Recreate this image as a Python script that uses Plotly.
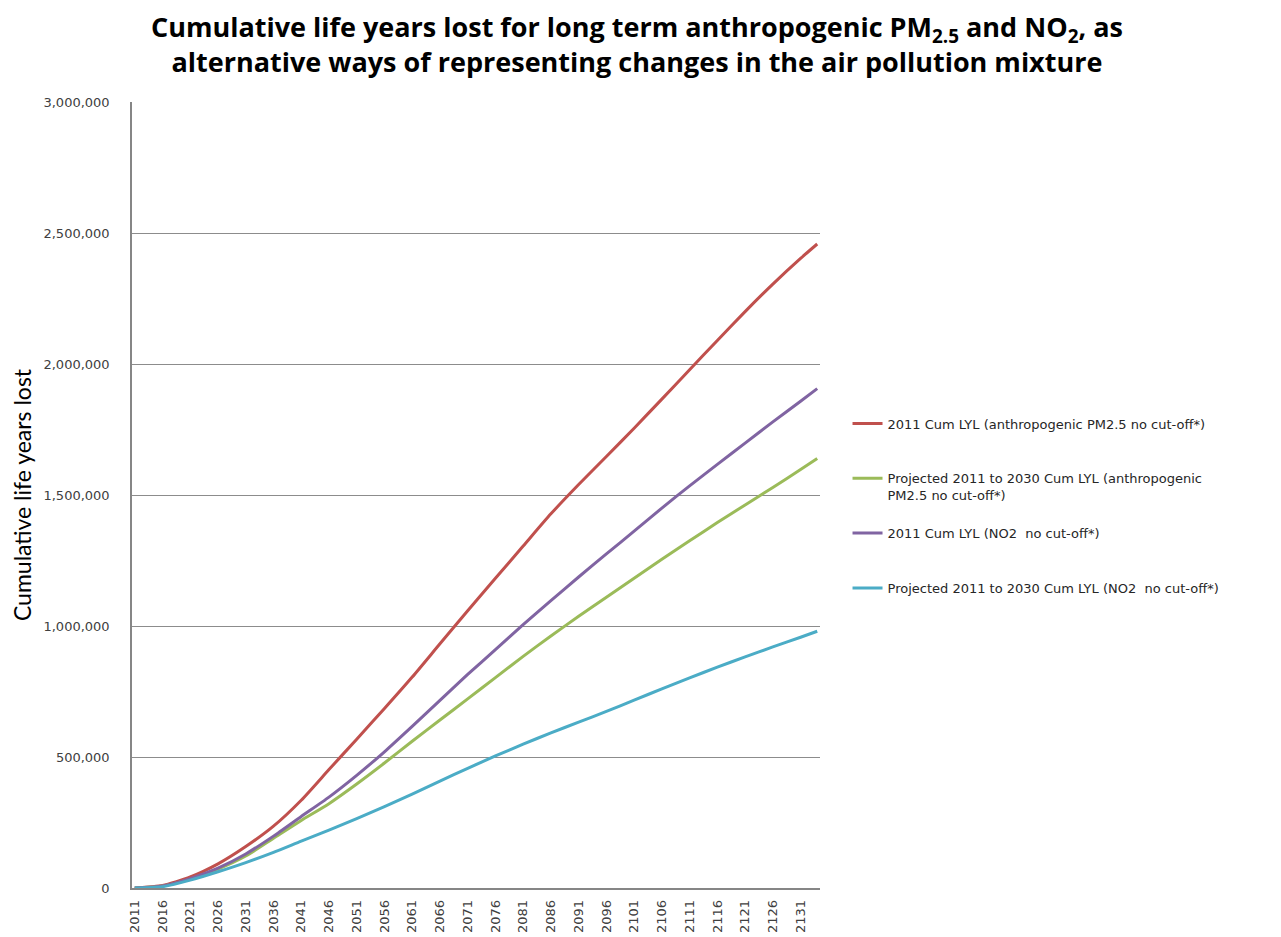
import plotly.graph_objects as go

years = [2011, 2016, 2021, 2026, 2031, 2036, 2041, 2046, 2051, 2056, 2061, 2066, 2071,
         2076, 2081, 2086, 2091, 2096, 2101, 2106, 2111, 2116, 2121, 2126, 2131, 2134]

pm25_2011 = [0, 10000, 42000, 92000, 158000, 236000, 335000, 452000, 568000, 685000,
             805000, 932000, 1058000, 1182000, 1305000, 1428000, 1540000, 1647000,
             1755000, 1866000, 1978000, 2090000, 2200000, 2305000, 2403000, 2458000]

pm25_proj = [0, 8000, 34000, 72000, 122000, 190000, 258000, 322000, 397000, 477000,
             560000, 641000, 722000, 803000, 884000, 962000, 1037000, 1110000,
             1182000, 1255000, 1325000, 1395000, 1462000, 1529000, 1597000, 1639000]

no2_2011 = [0, 8000, 36000, 76000, 130000, 198000, 273000, 347000, 430000, 520000,
            617000, 716000, 815000, 910000, 1005000, 1097000, 1187000, 1275000,
            1362000, 1450000, 1535000, 1617000, 1698000, 1779000, 1858000, 1906000]

no2_proj = [0, 5000, 30000, 62000, 97000, 136000, 179000, 221000, 265000, 311000,
            358000, 408000, 457000, 504000, 549000, 592000, 633000, 674000,
            717000, 760000, 802000, 843000, 882000, 920000, 957000, 980000]

tick_years = list(range(2011, 2132, 5))
tick_labels = [str(y) for y in tick_years]
y_ticks = [0, 500000, 1000000, 1500000, 2000000, 2500000, 3000000]

series_names = [
    "2011 Cum LYL (anthropogenic PM2.5 no cut-off*)<br> ",
    "Projected 2011 to 2030 Cum LYL (anthropogenic<br>PM2.5 no cut-off*)",
    "2011 Cum LYL (NO2  no cut-off*)<br> ",
    "Projected 2011 to 2030 Cum LYL (NO2  no cut-off*)",
]
series_values = [pm25_2011, pm25_proj, no2_2011, no2_proj]
series_colors = ["#C0504D", "#9BBB59", "#8064A2", "#4BACC6"]

fig = go.Figure()
for i, (name, vals, col) in enumerate(zip(series_names, series_values, series_colors)):
    fig.add_trace(go.Scatter(
        x=years, y=vals, mode="lines", name=name,
        line=dict(color=col, width=3, shape="spline", smoothing=0.6),
        legendgroup="g%d" % i,
    ))

tick_font = dict(family="Verdana, DejaVu Sans, sans-serif", size=13, color="#404040")

# the page body adds an 8 px offset; margins compensate for it
fig.update_layout(
    width=1281, height=937,
    paper_bgcolor="white", plot_bgcolor="white",
    margin=dict(l=124, r=469, t=94, b=57, autoexpand=False),
    title=dict(
        text="Cumulative life years lost for long term anthropogenic PM<sub>2.5</sub> and NO<sub>2</sub>, as<br>alternative ways of representing changes in the air pollution mixture",
        x=0.491, xanchor="center", y=0.969, yanchor="middle",
        font=dict(family="Open Sans, Lato, sans-serif", size=27, color="black", weight="bold"),
    ),
    xaxis=dict(
        range=[2010.5, 2134.5],
        tickmode="array", tickvals=tick_years, ticktext=tick_labels,
        tickangle=-90, tickfont=tick_font,
        showgrid=False, zeroline=False,
        showline=True, linecolor="#868686", linewidth=1.5,
        ticks="", ticklabelstandoff=5,
        automargin=False, fixedrange=True,
    ),
    yaxis=dict(
        range=[0, 3000000],
        tickmode="array", tickvals=y_ticks,
        tickformat=",d", tickfont=tick_font,
        showgrid=True, gridcolor="#8C8C8C", gridwidth=1,
        zeroline=False,
        showline=True, linecolor="#868686", linewidth=1.5,
        ticks="", ticklabelstandoff=18,
        title=dict(text="Cumulative life years lost",
                   font=dict(family="Lato, Open Sans, sans-serif", size=23, color="black"),
                   standoff=12),
        automargin=False, fixedrange=True,
    ),
    legend=dict(
        x=1.040, xanchor="left", y=0.610, yanchor="top",
        font=dict(family="DejaVu Sans, Verdana, sans-serif", size=13, color="#262626"),
        valign="top", traceorder="grouped", tracegroupgap=18,
        bgcolor="rgba(0,0,0,0)",
    ),
    showlegend=True,
)

fig.write_html("out.html")
